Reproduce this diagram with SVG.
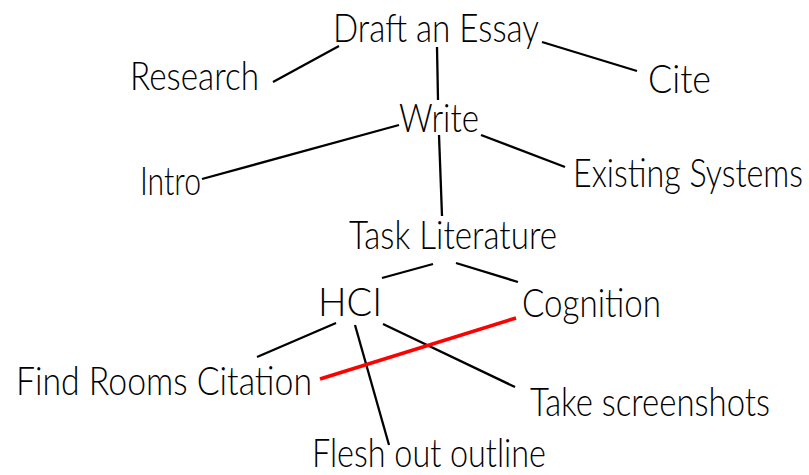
<svg xmlns="http://www.w3.org/2000/svg" width="809" height="475" viewBox="0 0 809 475">
<style>
text{font-family:"Lato","Noto Sans","Liberation Sans",sans-serif;font-weight:300;font-size:39px;fill:#000}
.e{stroke:#000;stroke-width:2.3;fill:none}
.r{stroke:#ff0000;stroke-width:3.6;fill:none}
</style>
<rect width="809" height="475" fill="#fff"/>
<g id="connectors">
<line class="e" x1="273" y1="82" x2="339" y2="46"/>
<line class="e" x1="542" y1="42" x2="637" y2="71"/>
<line class="e" x1="437" y1="47" x2="438" y2="100"/>
<line class="e" x1="202" y1="179" x2="399" y2="125"/>
<line class="e" x1="481" y1="135" x2="565" y2="167"/>
<line class="e" x1="439" y1="135" x2="442" y2="216"/>
<line class="e" x1="433" y1="264" x2="382" y2="278"/>
<line class="e" x1="456" y1="263" x2="518" y2="282"/>
<line class="e" x1="336" y1="323" x2="257" y2="357"/>
<line class="e" x1="355" y1="325" x2="389" y2="445"/>
<line class="e" x1="383" y1="324" x2="515" y2="387"/>
<line class="r" x1="320" y1="379" x2="516" y2="318"/>
</g>
<g id="draft"><text x="333" y="42" textLength="206" lengthAdjust="spacingAndGlyphs">Draft an Essay</text></g>
<g id="research"><text x="130" y="90" textLength="129" lengthAdjust="spacingAndGlyphs">Research</text></g>
<g id="cite"><text x="648" y="93" textLength="63" lengthAdjust="spacingAndGlyphs">Cite</text></g>
<g id="write"><text x="399" y="132" textLength="80" lengthAdjust="spacingAndGlyphs">Write</text></g>
<g id="intro"><text x="140" y="195" textLength="61" lengthAdjust="spacingAndGlyphs">Intro</text></g>
<g id="existing"><text transform="translate(573,187) scale(1,1.22)" x="0" y="0" style="font-size:32px" textLength="230" lengthAdjust="spacingAndGlyphs">Existing Systems</text></g>
<g id="task"><text x="349" y="249" textLength="208" lengthAdjust="spacingAndGlyphs">Task Literature</text></g>
<g id="hci"><text x="318" y="316" textLength="64" lengthAdjust="spacingAndGlyphs">HCI</text></g>
<g id="cognition"><text x="522" y="317" textLength="139" lengthAdjust="spacingAndGlyphs">Cognition</text></g>
<g id="findrooms"><text x="16" y="395" textLength="296" lengthAdjust="spacingAndGlyphs">Find Rooms Citation</text></g>
<g id="screenshots"><text transform="translate(530,416) scale(1,1.08)" x="0" y="0" style="font-size:36px" textLength="240" lengthAdjust="spacingAndGlyphs">Take screenshots</text></g>
<g id="flesh"><text x="312" y="467" textLength="234" lengthAdjust="spacingAndGlyphs">Flesh out outline</text></g>
</svg>
